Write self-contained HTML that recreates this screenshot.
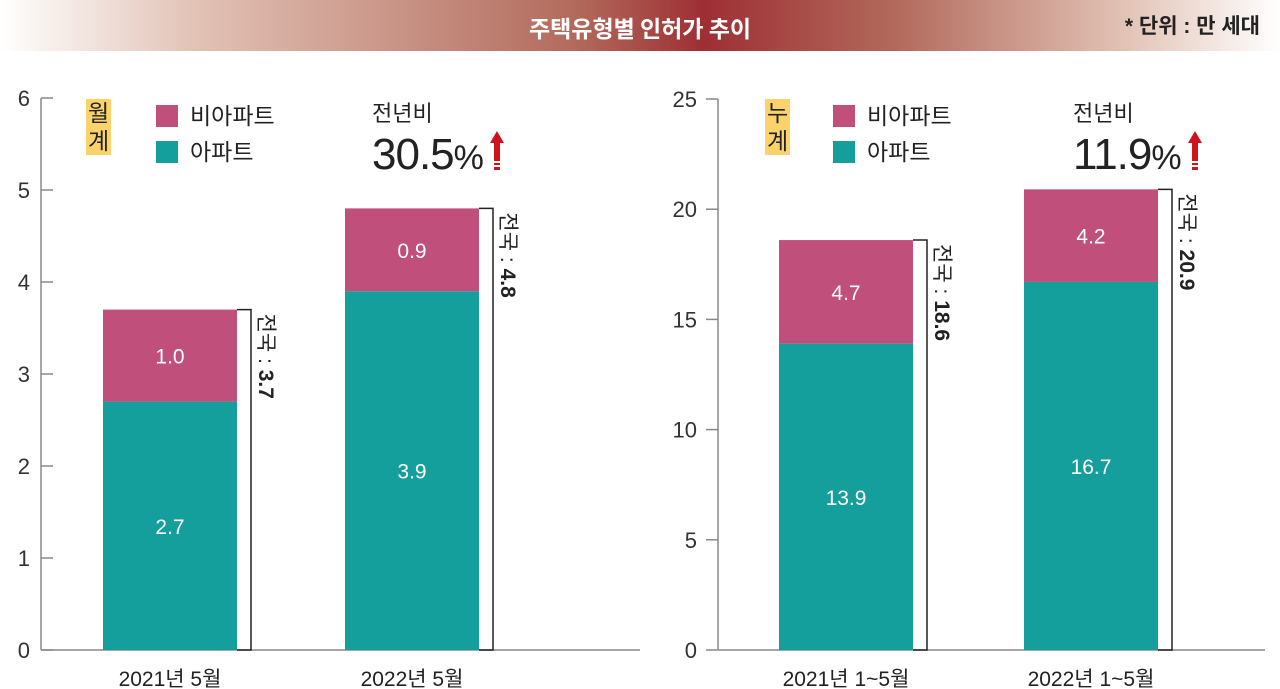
<!DOCTYPE html>
<html><head><meta charset="utf-8">
<style>
body{margin:0;width:1280px;height:689px;background:#fff;overflow:hidden;font-family:"Liberation Sans","Noto Sans CJK KR",sans-serif;}
#banner{position:absolute;left:0;top:0;width:1280px;height:51px;background:linear-gradient(90deg,#fff 0%,#e2c3b6 15%,#b26a5c 45%,#9e2f34 55%,#b26a5c 70%,#e2c3b6 88%,#fff 100%);}
</style></head><body>
<div id="banner"></div>
<div style="position:absolute;left:0;width:1280px;top:10px;text-align:center;color:#fff;font-size:23px;font-weight:bold;font-family:'Noto Sans CJK KR',sans-serif;">주택유형별 인허가 추이</div>
<div style="position:absolute;right:20px;top:10px;color:#222;font-size:21px;font-weight:bold;font-family:'Liberation Sans','Noto Sans CJK KR',sans-serif;">* 단위 : 만 세대</div>
<svg id="c" width="1280" height="689" style="position:absolute;left:0;top:0" font-family="Liberation Sans, Noto Sans CJK KR, sans-serif"></svg>
<script>
const leftCats=["2021년 5월","2022년 5월"];
const leftApt=[2.7,3.9];
const leftNon=[1.0,0.9];
const leftTotal=[3.7,4.8];
const leftTicks=[0,1,2,3,4,5,6];
const rightCats=["2021년 1~5월","2022년 1~5월"];
const rightApt=[13.9,16.7];
const rightNon=[4.7,4.2];
const rightTotal=[18.6,20.9];
const rightTicks=[0,5,10,15,20,25];
const NS="http://www.w3.org/2000/svg";
const svg=document.getElementById('c');
function mk(t,a,txt){const e=document.createElementNS(NS,t);for(const k in a)e.setAttribute(k,a[k]);if(txt!=null)e.textContent=txt;svg.appendChild(e);return e;}
function chart(cfg){
  const y=v=>cfg.y0-(v/cfg.max)*(cfg.y0-cfg.yTop);
  let ax=mk('line',{x1:cfg.axX,y1:cfg.yTop,x2:cfg.axX,y2:cfg.y0,stroke:'#888','stroke-width':1.5});
  
  let bl=mk('line',{x1:cfg.axX,y1:cfg.y0,x2:cfg.axEnd,y2:cfg.y0,stroke:'#888','stroke-width':1.5});
  
  cfg.ticks.forEach(t=>{
    let l=mk('line',{x1:cfg.tickX1,y1:y(t),x2:cfg.tickX2,y2:y(t),stroke:'#888','stroke-width':1.5});
    
    let tx=mk('text',{x:cfg.labX,y:y(t)+8,'text-anchor':'end','font-size':22,fill:'#333'},t);
    
  });
  cfg.cats.forEach((c,i)=>{
    const x=cfg.barX[i],w=134;
    const ya=y(cfg.apt[i]),yn=y(cfg.apt[i]+cfg.non[i]);
    let r1=mk('rect',{x:x,y:ya,width:w,height:cfg.y0-ya,fill:'#149f9c'});
    
    let r2=mk('rect',{x:x,y:yn,width:w,height:ya-yn,fill:'#c04f7b'});
    
    let t1=mk('text',{x:x+w/2,y:(ya+cfg.y0)/2+8,'text-anchor':'middle','font-size':21,fill:'#fff'},cfg.apt[i].toFixed(1));
    
    let t2=mk('text',{x:x+w/2,y:(ya+yn)/2+8,'text-anchor':'middle','font-size':21,fill:'#fff'},cfg.non[i].toFixed(1));
    
    let br=mk('path',{d:`M${x+w} ${yn}H${x+w+14}V${cfg.y0}H${x+w}`,fill:'none',stroke:'#222','stroke-width':1.5});
    
    const tx=x+w+22,ty=yn+4;
    let tt=mk('text',{x:tx,y:ty,'font-size':21,fill:'#222',transform:`rotate(90 ${tx} ${ty})`});
    
    const s1=document.createElementNS(NS,'tspan');s1.textContent='전국 : ';tt.appendChild(s1);
    const s2=document.createElementNS(NS,'tspan');s2.setAttribute('font-weight','bold');s2.textContent=cfg.total[i].toFixed(1);tt.appendChild(s2);
    let cl=mk('text',{x:x+w/2,y:cfg.y0+36,'text-anchor':'middle','font-size':21,fill:'#222'},c);
    
  });
}
chart({cats:leftCats,apt:leftApt,non:leftNon,total:leftTotal,ticks:leftTicks,max:6,y0:650,yTop:98,axX:41,axEnd:640,tickX1:41,tickX2:53,labX:30,barX:[103,345]});
chart({cats:rightCats,apt:rightApt,non:rightNon,total:rightTotal,ticks:rightTicks,max:25,y0:650,yTop:99,axX:718,axEnd:1265,tickX1:706,tickX2:718,labX:697,barX:[779,1024]});
</script>
<!-- legends -->
<div style="position:absolute;left:86px;top:95px;font-size:23px;color:#222;font-family:'Liberation Sans','Noto Sans CJK KR',sans-serif;">
 <span style="position:absolute;left:0;top:4px;background:#fbd36a;padding:0 2px;line-height:28px;">월계</span>
 <div style="position:absolute;left:70px;top:2px;white-space:nowrap;"><span style="display:inline-block;width:22px;height:22px;background:#c04f7b;vertical-align:-3px;margin-right:12px"></span>비아파트</div>
 <div style="position:absolute;left:70px;top:38px;white-space:nowrap;"><span style="display:inline-block;width:22px;height:22px;background:#149f9c;vertical-align:-3px;margin-right:12px"></span>아파트</div>
</div>
<div style="position:absolute;left:765px;top:95px;font-size:23px;color:#222;font-family:'Liberation Sans','Noto Sans CJK KR',sans-serif;">
 <span style="position:absolute;left:0;top:4px;background:#fbd36a;padding:0 2px;line-height:28px;">누계</span>
 <div style="position:absolute;left:68px;top:2px;white-space:nowrap;"><span style="display:inline-block;width:22px;height:22px;background:#c04f7b;vertical-align:-3px;margin-right:12px"></span>비아파트</div>
 <div style="position:absolute;left:68px;top:38px;white-space:nowrap;"><span style="display:inline-block;width:22px;height:22px;background:#149f9c;vertical-align:-3px;margin-right:12px"></span>아파트</div>
</div>
<!-- yoy -->
<div style="position:absolute;left:372px;top:96px;color:#222;font-family:'Liberation Sans','Noto Sans CJK KR',sans-serif;">
 <div style="font-size:22px;">전년비</div>
 <div style="font-size:44px;line-height:50px;margin-top:2px;white-space:nowrap;letter-spacing:-1px;">30.5<span style="font-size:34px">%</span><svg width="16" height="40" style="margin-left:6px;vertical-align:-2px"><path d="M8 0L15 12H11V30H5V12H1Z" fill="#d0131b"/><rect x="5" y="32" width="6" height="2" fill="#d0131b"/><rect x="5" y="36" width="6" height="3" fill="#d0131b"/></svg></div>
</div>
<div style="position:absolute;left:1073px;top:96px;color:#222;font-family:'Liberation Sans','Noto Sans CJK KR',sans-serif;">
 <div style="font-size:22px;">전년비</div>
 <div style="font-size:44px;line-height:50px;margin-top:2px;white-space:nowrap;letter-spacing:-1px;">11.9<span style="font-size:34px">%</span><svg width="16" height="40" style="margin-left:6px;vertical-align:-2px"><path d="M8 0L15 12H11V30H5V12H1Z" fill="#d0131b"/><rect x="5" y="32" width="6" height="2" fill="#d0131b"/><rect x="5" y="36" width="6" height="3" fill="#d0131b"/></svg></div>
</div>
</body></html>
